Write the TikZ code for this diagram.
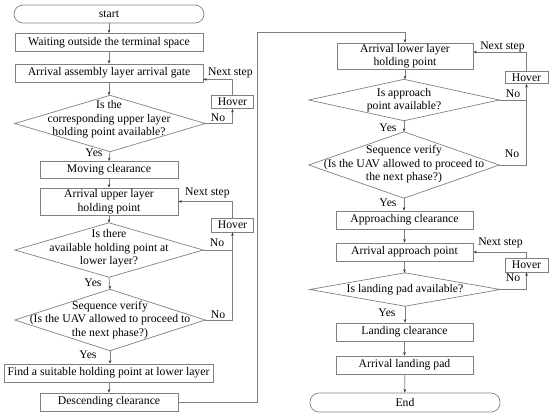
\documentclass[tikz,border=0pt]{standalone}
\usepackage{fontspec}
\setmainfont{Liberation Serif}
\usetikzlibrary{arrows.meta,calc}
\definecolor{linegray}{RGB}{128,128,128}
\tikzset{
  every node/.style={font=\fontsize{11.7bp}{13.5bp}\selectfont, text=black},
  box/.style={draw=linegray, line width=0.7bp, inner sep=0pt, align=center},
  term/.style={box, rounded corners=9bp},
  dia/.style={inner sep=0pt, align=center},
  diaedge/.style={draw=linegray, line width=0.7bp},
  hov/.style={box},
  lbl/.style={inner sep=0pt},
  conn/.style={draw=linegray, line width=0.7bp, -{Stealth[length=3.5bp,width=2.6bp,color=black!80]}},
  plain/.style={draw=linegray, line width=0.7bp},
}
\begin{document}
\begin{tikzpicture}[x=1bp,y=-1bp]
\useasboundingbox (0,0) rectangle (550,416);
% ---- left column
\node[term, minimum width=190bp, minimum height=18bp] (start) at (109,14) {start};
\node[box, minimum width=188bp, minimum height=18bp] (b1) at (109,42.5) {Waiting outside the terminal space};
\node[box, minimum width=188bp, minimum height=18bp] (b2) at (109,73) {Arrival assembly layer arrival gate};
\node[dia, minimum width=190bp, minimum height=56bp] (d1) at (110,123.5) {};
\node[lbl, align=center] (d1t) at (109,119.5) {Is the\\corresponding upper layer\\holding point available?};
\node[hov, minimum width=42bp, minimum height=13bp] (h1) at (232.5,102) {Hover};
\node[box, minimum width=138bp, minimum height=17bp] (b3) at (109,170) {Moving clearance};
\node[box, minimum width=138bp, minimum height=27bp] (b4) at (109,201.5) {Arrival upper layer\\holding point};
\node[hov, minimum width=42bp, minimum height=14bp] (h2) at (232.5,225) {Hover};
\node[dia, minimum width=188bp, minimum height=54bp] (d2) at (109,250) {};
\node[lbl, align=center] (d2t) at (109,248.5) {Is there\\available holding point at\\lower layer?};
\node[dia, minimum width=190bp, minimum height=61bp] (d3) at (110,320) {};
\node[lbl, align=center] (d3t) at (110,320) {Sequence verify\\(Is the UAV allowed to proceed to\\the next phase?)};
\node[box, minimum width=209bp, minimum height=18bp] (b5) at (108.5,373) {Find a suitable holding point at lower layer};
\node[box, minimum width=138bp, minimum height=18bp] (b6) at (109,402) {Descending clearance};
% ---- right column
\node[box, minimum width=136bp, minimum height=26bp] (b7) at (405,56) {Arrival lower layer\\holding point};
\node[hov, minimum width=43bp, minimum height=12bp] (h3) at (526.5,77.5) {Hover};
\node[dia, minimum width=190bp, minimum height=41bp] (d4) at (404,100) {};
\node[lbl, align=center] (d4t) at (404,100) {Is approach\\point available?};
\node[dia, minimum width=190bp, minimum height=66bp] (d5) at (404,165) {};
\node[lbl, align=center] (d5t) at (404,164.5) {Sequence verify\\(Is the UAV allowed to proceed to\\the next phase?)};
\node[box, minimum width=137bp, minimum height=18bp] (b8) at (404.5,220) {Approaching clearance};
\node[box, minimum width=137bp, minimum height=18bp] (b9) at (404.5,252) {Arrival approach point};
\node[hov, minimum width=43bp, minimum height=14bp] (h4) at (526.5,265) {Hover};
\node[dia, minimum width=190bp, minimum height=33bp] (d6) at (405,289.5) {};
\node[lbl] (d6t) at (405,289.5) {Is landing pad available?};
\node[box, minimum width=137bp, minimum height=18bp] (b10) at (404.5,332) {Landing clearance};
\node[box, minimum width=137bp, minimum height=18bp] (b11) at (404.5,365) {Arrival landing pad};
\node[term, minimum width=190bp, minimum height=19bp] (end) at (405,402.5) {End};
% ---- diamonds
\foreach \d in {d1,d2,d3,d4,d5,d6}{
  \draw[diaedge] (\d.north) -- (\d.east) -- (\d.south) -- (\d.west) -- cycle;
}
% ---- labels
\node[lbl] (ns1) at (230.5,72.5) {Next step};
\node[lbl] (ns2) at (207.5,193) {Next step};
\node[lbl] (ns3) at (502.5,46.5) {Next step};
\node[lbl] (ns4) at (500.5,243) {Next step};
\node[lbl] (no1) at (218,118) {No};
\node[lbl] (no2) at (217,243) {No};
\node[lbl] (no3) at (218,315) {No};
\node[lbl] (no4) at (513,94) {No};
\node[lbl] (no5) at (512,154) {No};
\node[lbl] (no6) at (513,278) {No};
\node[lbl] (y1) at (94,153) {Yes};
\node[lbl] (y2) at (93,283) {Yes};
\node[lbl] (y3) at (88,355) {Yes};
\node[lbl] (y4) at (388,128) {Yes};
\node[lbl] (y5) at (388,203) {Yes};
\node[lbl] (y6) at (387,313) {Yes};
% ---- connectors left
\draw[conn] (start) -- (b1);
\draw[conn] (b1) -- (b2);
\draw[conn] (b2.south) -- (b2.south |- d1.north);
\draw[conn] (d1.east) -| (h1.south);
\draw[conn] (h1.north) |- ([yshift=3bp]b2.south east);
\draw[conn] (d1.south) -- (b3.north);
\draw[conn] (b3) -- (b4);
\draw[conn] (b4.south) -- (d2.north);
\draw[plain] (d2.east) -- (d2.east -| h2.south);
\draw[conn] (d3.east) -| (h2.south);
\draw[conn] (h2.north) |- (b4.east);
\draw[conn] (d2.south) -- (d3.north);
\draw[conn] (d3.south) -- (d3.south |- b5.north);
\draw[conn] (b5.south -| b6.north) -- (b6.north);
\coordinate (c1) at (257,32);
\draw[conn] (b6.east) -| (c1) -| (b7.north);
% ---- connectors right
\draw[conn] (b7.south) -- (b7.south |- d4.north);
\draw[conn] (d4.east) -| (h3.south);
\draw[plain] (d5.east) -| (h3.south |- d4.east);
\draw[conn] (h3.north) |- ([yshift=4bp]b7.east);
\draw[conn] (d4.south) -- (d5.north);
\draw[conn] (d5.south) -- (d5.south |- b8.north);
\draw[conn] (b8) -- (b9);
\draw[conn] (b9.south) -- (b9.south |- d6.north);
\draw[conn] (d6.east) -| (h4.south);
\draw[conn] (h4.north) |- (b9.east);
\draw[conn] (d6.south) -- (d6.south |- b10.north);
\draw[conn] (b10) -- (b11);
\draw[conn] (b11) -- (end);
\end{tikzpicture}
\end{document}
